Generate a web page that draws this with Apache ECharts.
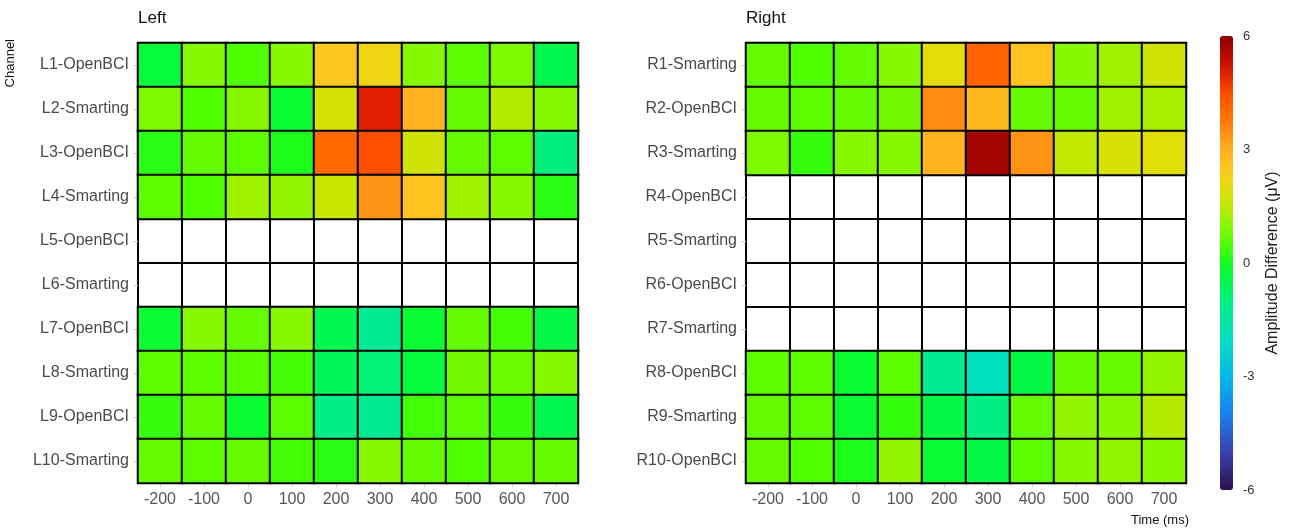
<!DOCTYPE html>
<html>
<head>
<meta charset="utf-8">
<script src="https://cdn.jsdelivr.net/npm/echarts@6/dist/echarts.min.js"></script>
<style>
html,body{margin:0;padding:0;background:#fff;}
#chart{width:1293px;height:531px;}
</style>
</head>
<body>
<div id="chart"></div>
<script>
const timeLabels = ['-200','-100','0','100','200','300','400','500','600','700'];
const leftChannels = ['L1-OpenBCI','L2-Smarting','L3-OpenBCI','L4-Smarting','L5-OpenBCI','L6-Smarting','L7-OpenBCI','L8-Smarting','L9-OpenBCI','L10-Smarting'];
const rightChannels = ['R1-Smarting','R2-OpenBCI','R3-Smarting','R4-OpenBCI','R5-Smarting','R6-OpenBCI','R7-Smarting','R8-OpenBCI','R9-Smarting','R10-OpenBCI'];
const colorbarTicks = [-6, -3, 0, 3, 6];

const leftValues = [
  [-0.3, 1.0, 0.5, 1.0, 2.5, 2.2, 1.0, 0.6, 0.9, -0.5],
  [0.9, 0.5, 1.0, -0.2, 1.8, 5.0, 2.9, 0.7, 1.4, 1.0],
  [0.2, 0.7, 0.6, 0.1, 4.0, 4.4, 1.7, 0.7, 0.6, -1.0],
  [0.6, 0.5, 1.2, 1.1, 1.6, 3.4, 2.6, 1.2, 1.0, 0.2],
  null,
  null,
  [-0.2, 1.0, 0.7, 1.0, -0.5, -1.3, -0.2, 0.7, 0.4, -0.4],
  [0.6, 0.6, 0.55, 0.4, -0.6, -0.9, -0.3, 0.8, 0.75, 1.0],
  [0.3, 0.7, -0.2, 0.6, -1.1, -1.3, 0.4, 0.6, 0.3, -0.5],
  [0.7, 0.6, 0.7, 0.4, 0.2, 1.0, 0.7, 0.5, 0.7, 0.7]
];
const rightValues = [
  [0.7, 0.5, 0.7, 1.0, 2.0, 4.1, 2.6, 1.0, 1.2, 1.7],
  [0.7, 0.6, 0.7, 0.8, 3.5, 2.8, 0.7, 0.7, 1.2, 1.3],
  [0.9, 0.3, 1.0, 1.0, 2.9, 5.7, 3.4, 1.5, 1.8, 1.95],
  null,
  null,
  null,
  null,
  [0.6, 0.6, -0.2, 0.6, -1.3, -2.0, -0.4, 0.7, 0.7, 1.1],
  [0.7, 0.6, -0.2, 0.3, -0.4, -1.1, 0.7, 1.1, 1.0, 1.4],
  [0.7, 0.5, 0.1, 1.1, -0.2, -0.4, 0.6, 1.0, 1.1, 1.0]
];

const paletteStops = [
  '#2b0f4f','#33287f','#3b40b0','#2c60d0','#1a80f0','#0d9cec','#00b8e8','#00ccd4','#00e0c0','#00e8a0','#00f080','#00f850',
  '#10ff20',
  '#50ff00','#88f800','#c0e800','#e4dc08','#ffc820','#ffae20','#ff8c10','#ff6a00','#ff4a00','#e02000','#b60800','#8b0000'
];

function toCells(rows) {
  const out = [];
  rows.forEach((row, i) => {
    if (!row) return;
    row.forEach((v, j) => out.push([j, i, v]));
  });
  return out;
}

const FONT = 'Liberation Sans, Arial, sans-serif';

function xAxisFor(gi) {
  return {
    type: 'category', gridIndex: gi, data: timeLabels, position: 'bottom',
    axisLine: {show: false},
    axisTick: {show: true, alignWithLabel: true, length: 4, lineStyle: {color: '#d0d0d0'}},
    splitLine: {show: true, interval: 0, lineStyle: {color: '#000', width: 2}},
    axisLabel: {color: '#555', fontSize: 16, fontFamily: FONT, margin: 9}
  };
}
function yAxisFor(gi, cats) {
  return {
    type: 'category', gridIndex: gi, data: cats, inverse: true,
    axisLine: {show: false},
    axisTick: {show: true, alignWithLabel: true, length: 4, lineStyle: {color: '#d0d0d0'}},
    splitLine: {show: true, interval: 0, lineStyle: {color: '#000', width: 2}},
    axisLabel: {color: '#4a4a4a', fontSize: 16, fontFamily: FONT, margin: 9}
  };
}

const chart = echarts.init(document.getElementById('chart'), null, {renderer: 'canvas'});
chart.setOption({
  backgroundColor: '#fff',
  animation: false,
  title: [
    {text: 'Left', left: 138, top: 10, padding: 0, textStyle: {fontSize: 17, fontWeight: 'normal', color: '#111', fontFamily: FONT}},
    {text: 'Right', left: 746, top: 10, padding: 0, textStyle: {fontSize: 17, fontWeight: 'normal', color: '#111', fontFamily: FONT}}
  ],
  grid: [
    {left: 138, top: 43, width: 440, height: 440, show: true, borderColor: '#000', borderWidth: 2, backgroundColor: '#fff'},
    {left: 746, top: 43, width: 440, height: 440, show: true, borderColor: '#000', borderWidth: 2, backgroundColor: '#fff'},
    {left: 1220, top: 36, width: 13, height: 454, show: false}
  ],
  xAxis: [
    xAxisFor(0),
    xAxisFor(1),
    {type: 'value', gridIndex: 2, min: 0, max: 1, show: false}
  ],
  yAxis: [
    yAxisFor(0, leftChannels),
    yAxisFor(1, rightChannels),
    {
      type: 'value', gridIndex: 2, position: 'right', min: -6, max: 6, interval: 3,
      axisLine: {show: false}, axisTick: {show: false}, splitLine: {show: false},
      axisLabel: {color: '#333', fontSize: 13, fontFamily: FONT, margin: 10,
        formatter: v => colorbarTicks.indexOf(v) >= 0 ? String(v) : ''},
      name: 'Amplitude Difference (μV)', nameLocation: 'middle', nameRotate: 90, nameGap: 32,
      nameTextStyle: {color: '#222', fontSize: 16, fontFamily: FONT}
    }
  ],
  visualMap: {
    type: 'continuous', min: -6, max: 6, calculable: false, seriesIndex: [0, 1],
    left: 1205, top: 21, itemWidth: 13, itemHeight: 454, text: ['', ''], showLabel: false,
    inRange: {color: paletteStops}
  },
  graphic: [
    {type: 'text', left: 4, top: 39, rotation: Math.PI / 2, style: {text: 'Channel', font: '13px ' + FONT, fill: '#111'}},
    {type: 'text', left: 1131, top: 514, style: {text: 'Time (ms)', font: '13px ' + FONT, fill: '#111'}}
  ],
  series: [
    {type: 'heatmap', xAxisIndex: 0, yAxisIndex: 0, data: toCells(leftValues),
      itemStyle: {borderColor: '#000', borderWidth: 2}, emphasis: {disabled: true}},
    {type: 'heatmap', xAxisIndex: 1, yAxisIndex: 1, data: toCells(rightValues),
      itemStyle: {borderColor: '#000', borderWidth: 2}, emphasis: {disabled: true}},
    {type: 'scatter', xAxisIndex: 2, yAxisIndex: 2, data: []}
  ]
});
</script>
</body>
</html>
